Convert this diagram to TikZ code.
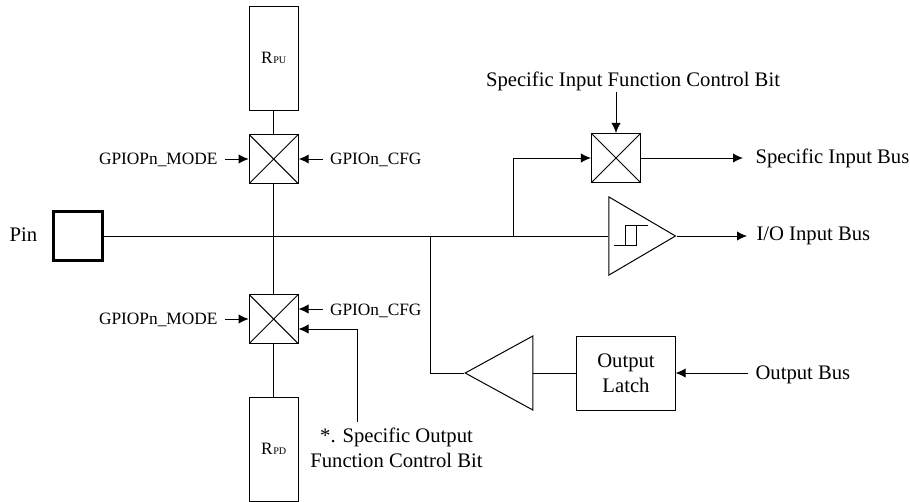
\documentclass[tikz,border=0pt]{standalone}
\usepackage{fontspec}
\setmainfont{Liberation Serif}
\usetikzlibrary{arrows.meta,shapes.geometric}

\begin{document}
\begin{tikzpicture}[x=0.75pt,y=-0.75pt,line width=0.75pt,font=\fontsize{15.5}{18.75}\selectfont,
  >={Latex[length=7.5pt,width=7pt]},
  box/.style={rectangle,draw,inner sep=0pt},
  label/.style={inner sep=0pt,align=center},
  signal/.style={label,font=\fontsize{13}{18.75}\selectfont},
  resistor/.style={box,font=\fontsize{13}{18.75}\selectfont,minimum width=36.5pt,minimum height=78pt},
  switch/.style={box,minimum size=36.8pt,path picture={
    \draw (path picture bounding box.north west) -- (path picture bounding box.south east);
    \draw (path picture bounding box.south west) -- (path picture bounding box.north east);}},
  buffer/.style={isosceles triangle,isosceles triangle stretches,draw,inner sep=0pt,minimum height=#1}]
\useasboundingbox (0,0) rectangle (910,501);
\node [label,anchor=base] (pinlabel) at (23.5,241.7) {Pin};
\node [box,line width=2.2pt,minimum size=36.5pt] (pin) at (78,236) {};
\node [resistor] (rpu) at (273.7,58) {R{\fontsize{7.6}{9}\selectfont\kern0.5pt PU}};
\node [switch] (swpu) at (273.7,159) {};
\node [switch] (swpd) at (273.7,319) {};
\node [resistor] (rpd) at (273.7,449) {R{\fontsize{7.6}{9}\selectfont\kern0.5pt PD}};
\node [switch] (swin) at (616,158) {};
\node [buffer=50pt,minimum width=58.7pt,anchor=lower side] (schmitt) at (608.3,236) {};
\node [buffer=50.7pt,minimum width=55.5pt,shape border rotate=180,anchor=lower side] (bufout) at (533.3,373) {};
\node [box,minimum width=73.7pt,minimum height=55.5pt,align=center] (latch) at (626,373) {Output\\Latch};
\node [signal,anchor=base east] (modepu) at (218,164) {GPIOPn\_MODE};
\node [signal,anchor=base west] (cfgpu) at (329.5,164) {GPIOn\_CFG};
\node [signal,anchor=base east] (modepd) at (218,324) {GPIOPn\_MODE};
\node [signal,anchor=base west] (cfgpd) at (329.5,315) {GPIOn\_CFG};
\node [label] (outctrl) at (396.5,447.5) {*. Specific Output\\Function Control Bit};
\node [label,anchor=base] (inctrl) at (633,86.7) {Specific Input Function Control Bit};
\node [label,anchor=base west] (inbus) at (755,163.3) {Specific Input Bus};
\node [label,anchor=base west] (iobus) at (756,240) {I/O Input Bus};
\node [label,anchor=base west] (outbus) at (755,379.3) {Output Bus};
\coordinate (branchin) at (513.5,236);
\coordinate (branchout) at (430,236);
\coordinate (cfgin) at (298.5,309);
\coordinate (outin) at (298.5,329);
\draw (pin.east) -- (schmitt.lower side);
\draw (rpu) -- (swpu);
\draw (swpu) -- (swpd);
\draw (swpd) -- (rpd);
\draw [->] (branchin) |- (swin.west);
\draw (branchout) |- (bufout.apex);
\draw (bufout.lower side) -- (latch.west);
\draw [->] (swpu.west -| modepu.east) ++(7,0) -- (swpu.west);
\draw [->] (swpu.east -| cfgpu.west) ++(-6.5,0) -- (swpu.east);
\draw [->] (swpd.west -| modepd.east) ++(7,0) -- (swpd.west);
\draw [->] (cfgin -| cfgpd.west) ++(-6.5,0) -- (cfgin);
\draw [->] (357,422) |- (outin);
\draw [->] (swin.north) ++(0,-41) -- (swin.north);
\draw [->] (swin.east) -- (743,158);
\draw [->] (schmitt.apex) -- (747,236);
\draw [->] (latch.east -| outbus.west) ++(-7,0) -- (latch.east);
\draw [line width=0.7pt] (614,245.7) -- (636.7,245.7) -- (636.7,225.7) (625.3,245.7) -- (625.3,225.7) -- (647.7,225.7);
\end{tikzpicture}
\end{document}
